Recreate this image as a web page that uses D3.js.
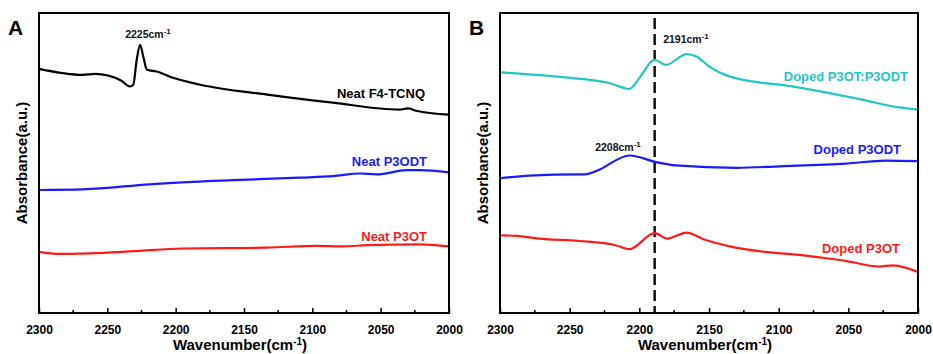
<!DOCTYPE html>
<html>
<head>
<meta charset="utf-8">
<script src="https://cdn.jsdelivr.net/npm/d3@7"></script>
<style>
  body { margin: 0; background: #fff; }
  text { font-family: Arial, "Liberation Sans", sans-serif; font-weight: bold; }
</style>
</head>
<body>
<script>
/* Data (wavenumber, absorbance a.u.) */
var neatF4 = [[2300,81.4],[2268,79.4],[2259,79.7],[2240,77.5],[2233.4,75.5],[2231,76.1],[2228.5,84.4],[2226,89.4],[2223.7,85.5],[2221,81.1],[2214,80.5],[2202,78.4],[2182,76.1],[2133,72.8],[2085,70.1],[2036,67.8],[2030,68.2],[2024,67.4],[2000,66.1]];
var neatP3ODT = [[2300,41.0],[2268,41.2],[2219,42.9],[2202,43.4],[2158,44.3],[2109,45.1],[2085,45.6],[2065,46.5],[2053,46.2],[2031,47.6],[2021,47.6],[2000,46.9]];
var neatP3OT = [[2300,20.4],[2285,19.7],[2263,19.9],[2231,20.6],[2195,21.5],[2133,21.8],[2097,22.4],[2078,22.2],[2060,22.6],[2021,22.9],[2000,22.2]];
var dopedBlend = [[2300,80.2],[2255,78.6],[2221,76.6],[2207,74.7],[2200,78.3],[2189,84.4],[2181,82.7],[2166,86.3],[2159,85.5],[2150,82.2],[2135,78.8],[2087,75.3],[2040,71.1],[2016,68.7],[2000,67.8]];
var dopedP3ODT = [[2300,44.9],[2279,45.8],[2243,46.2],[2239,46.2],[2231,47.3],[2207,52.5],[2188,50.3],[2174,49.2],[2130,48.4],[2099,48.9],[2052,49.8],[2023,50.8],[2000,50.6]];
var dopedP3OT = [[2300,25.9],[2288,25.7],[2272,24.8],[2243,24.0],[2217,22.6],[2207,21.3],[2189,26.6],[2180,24.8],[2166,26.8],[2154,24.6],[2135,22.2],[2075,18.8],[2052,17.4],[2028,15.5],[2018,15.9],[2000,13.7]];

var xTicks = [2300, 2250, 2200, 2150, 2100, 2050, 2000];
var xMinor = [2275, 2225, 2175, 2125, 2075, 2025];
var dashedAt = 2189;

var panels = [
  { letter: "A", left: 39, right: 449,
    series: [
      { data: neatF4, color: "#000000", label: "Neat F4-TCNQ", lx: 425, ly: 98 },
      { data: neatP3ODT, color: "#1a1aff", label: "Neat P3ODT", lx: 427, ly: 166 },
      { data: neatP3OT, color: "#ff1a1a", label: "Neat P3OT", lx: 427, ly: 241 }
    ],
    notes: [ { text: "2225", x: 148, y: 38 } ] },
  { letter: "B", left: 500, right: 918,
    series: [
      { data: dopedBlend, color: "#22c6c6", label: "Doped P3OT:P3ODT", lx: 908, ly: 81 },
      { data: dopedP3ODT, color: "#1a1aff", label: "Doped P3ODT", lx: 901, ly: 154 },
      { data: dopedP3OT, color: "#ff1a1a", label: "Doped P3OT", lx: 900, ly: 253 }
    ],
    notes: [ { text: "2191", x: 686, y: 43 }, { text: "2208", x: 618, y: 151 } ],
    dashed: true }
];

var plotTop = 13, plotBottom = 313;
var svg = d3.select("body").append("svg").attr("width", 933).attr("height", 354);

panels.forEach(function(p) {
  var x = d3.scaleLinear().domain([2300, 2000]).range([p.left, p.right]);
  var y = d3.scaleLinear().domain([0, 100]).range([plotBottom, plotTop]);
  var g = svg.append("g");

  var line = d3.line()
    .x(function(d) { return x(d[0]); })
    .y(function(d) { return y(d[1]); })
    .curve(d3.curveMonotoneX);

  if (p.dashed) {
    g.append("line")
      .attr("x1", x(dashedAt)).attr("x2", x(dashedAt))
      .attr("y1", plotTop + 5).attr("y2", plotBottom)
      .attr("stroke", "#111").attr("stroke-width", 2.5)
      .attr("stroke-dasharray", "11,5");
  }

  p.series.forEach(function(s) {
    g.append("path").datum(s.data)
      .attr("d", line)
      .attr("fill", "none")
      .attr("stroke", s.color)
      .attr("stroke-width", 2.2);
    g.append("text")
      .attr("x", s.lx).attr("y", s.ly)
      .attr("text-anchor", "end")
      .attr("font-size", 13)
      .attr("fill", s.color)
      .text(s.label);
  });

  p.notes.forEach(function(n) {
    var t = g.append("text")
      .attr("x", n.x).attr("y", n.y)
      .attr("text-anchor", "middle")
      .attr("font-size", 10.5)
      .attr("fill", "#111");
    t.append("tspan").text(n.text + "cm");
    t.append("tspan").attr("dy", -4).attr("font-size", 8).text("-1");
  });

  // frame
  g.append("rect")
    .attr("x", p.left).attr("y", plotTop)
    .attr("width", p.right - p.left).attr("height", plotBottom - plotTop)
    .attr("fill", "none").attr("stroke", "#000").attr("stroke-width", 2);

  // ticks
  var axis = d3.axisBottom(x).tickValues(xTicks).tickSize(-5).tickPadding(12)
    .tickFormat(d3.format("d"));
  var ax = g.append("g").attr("transform", "translate(0," + plotBottom + ")").call(axis);
  ax.select(".domain").remove();
  ax.selectAll(".tick line").attr("stroke", "#000").attr("stroke-width", 1.5);
  ax.selectAll(".tick text").attr("font-size", 12).attr("fill", "#000")
    .attr("font-family", "Arial, 'Liberation Sans', sans-serif").attr("font-weight", "bold");
  g.selectAll(".minor").data(xMinor).enter().append("line")
    .attr("x1", function(d) { return x(d); }).attr("x2", function(d) { return x(d); })
    .attr("y1", plotBottom).attr("y2", plotBottom - 3)
    .attr("stroke", "#000").attr("stroke-width", 1.5);

  // axis titles
  var xt = g.append("text")
    .attr("x", (p.left + p.right) / 2 - 4).attr("y", 350)
    .attr("text-anchor", "middle").attr("font-size", 15).attr("fill", "#000");
  xt.append("tspan").text("Wavenumber(cm");
  xt.append("tspan").attr("dy", -5).attr("font-size", 10).text("-1");
  xt.append("tspan").attr("dy", 5).text(")");

  g.append("text")
    .attr("transform", "translate(" + (p.left - 12) + "," + ((plotTop + plotBottom) / 2) + ") rotate(-90)")
    .attr("text-anchor", "middle").attr("font-size", 15).attr("fill", "#000")
    .text("Absorbance(a.u.)");

  g.append("text")
    .attr("x", p.left - 31).attr("y", 35)
    .attr("font-size", 21).attr("fill", "#000")
    .text(p.letter);
});
</script>
</body>
</html>
